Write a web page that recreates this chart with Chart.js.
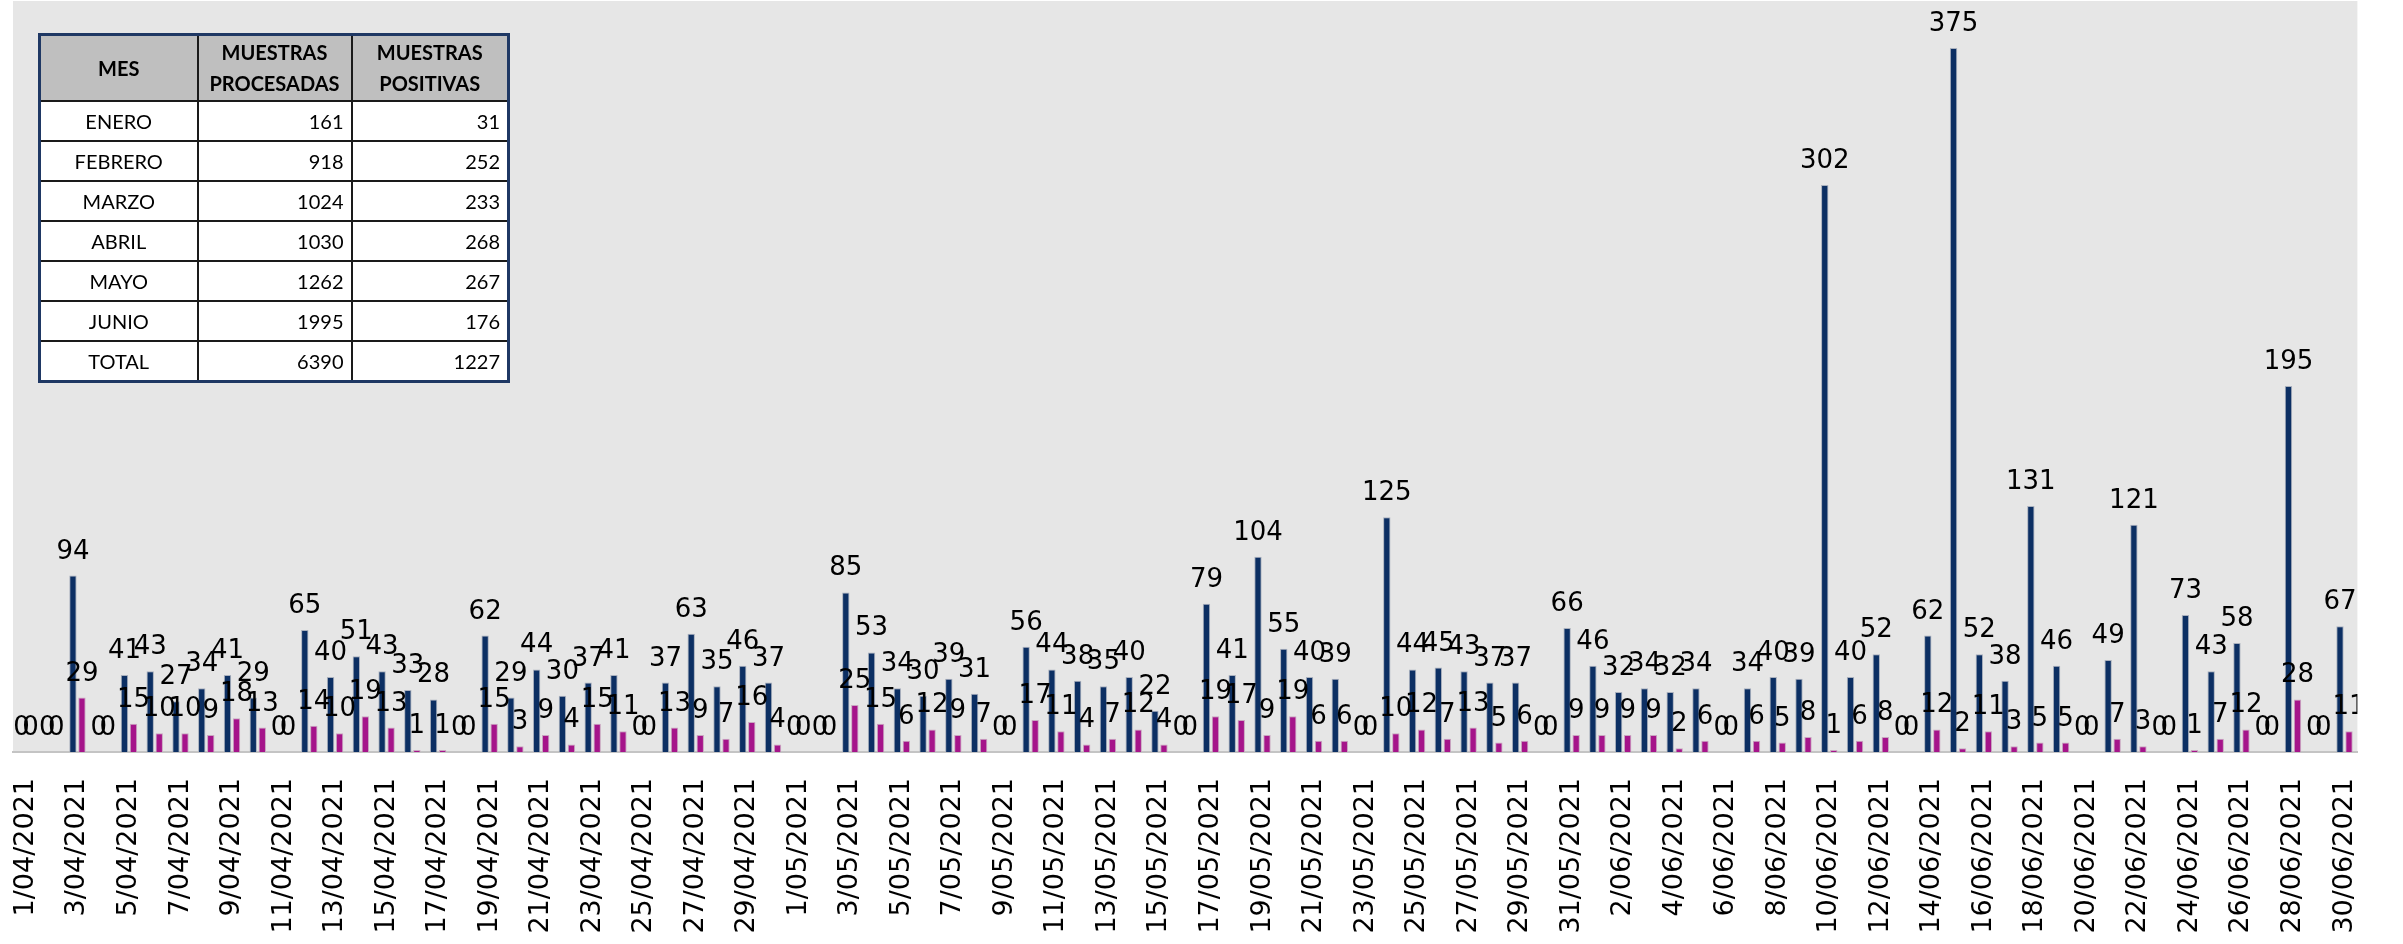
<!DOCTYPE html>
<html>
<head>
<meta charset="utf-8">
<script src="https://cdn.jsdelivr.net/npm/chart.js@4"></script>
<style>
    html, body { margin: 0; padding: 0; background: #fff; }
    #wrap { position: relative; width: 2403px; height: 944px; }
    #monthTable {
        position: absolute; left: 38px; top: 33px;
        border-collapse: collapse; border: 3px solid #1f3864; table-layout: fixed;
        font-family: Lato, "Liberation Sans", sans-serif; font-size: 20px; color: #000;
    }
    #monthTable th, #monthTable td { border: 2px solid #1a1a1a; padding: 0 7px; }
    #monthTable th { background: #bfbfbf; height: 64px; line-height: 31px; font-weight: bold; }
    #monthTable td { background: #fff; height: 38px; text-align: right; }
    #monthTable td:first-child { text-align: center; }
</style>
</head>
<body>
<div id="wrap">
    <canvas id="dailyChart" width="2403" height="944"></canvas>
    <table id="monthTable">
        <colgroup><col style="width:158px"><col style="width:154px"><col style="width:157px"></colgroup>
        <tbody id="monthRows"></tbody>
    </table>
</div>
<script>
// Muestras diarias abril - junio 2021
const months = [['04', 30], ['05', 31], ['06', 30]];
const dayLabels = [];
months.forEach(([m, n]) => {
    for (let d = 1; d <= n; d++) dayLabels.push(d + '/' + m + '/2021');
});

const processed = [
    0, 0, 94, 0, 41, 43, 27, 34, 41, 29, 0, 65, 40, 51, 43, 33, 28, 0, 62, 29,
    44, 30, 37, 41, 0, 37, 63, 35, 46, 37,
    0, 0, 85, 53, 34, 30, 39, 31, 0, 56, 44, 38, 35, 40, 22, 0, 79, 41, 104, 55,
    40, 39, 0, 125, 44, 45, 43, 37, 37, 0, 66,
    46, 32, 34, 32, 34, 0, 34, 40, 39, 302, 40, 52, 0, 62, 375, 52, 38, 131, 46, 0,
    49, 121, 0, 73, 43, 58, 0, 195, 0, 67
];
const positive = [
    0, 0, 29, 0, 15, 10, 10, 9, 18, 13, 0, 14, 10, 19, 13, 1, 1, 0, 15, 3,
    9, 4, 15, 11, 0, 13, 9, 7, 16, 4,
    0, 0, 25, 15, 6, 12, 9, 7, 0, 17, 11, 4, 7, 12, 4, 0, 19, 17, 9, 19,
    6, 6, 0, 10, 12, 7, 13, 5, 6, 0, 9,
    9, 9, 9, 2, 6, 0, 6, 5, 8, 1, 6, 8, 0, 12, 2, 11, 3, 5, 5, 0,
    7, 3, 0, 1, 7, 12, 0, 28, 0, 11
];

// Tabla resumen por mes
const tableMonths = ['ENERO', 'FEBRERO', 'MARZO', 'ABRIL', 'MAYO', 'JUNIO', 'TOTAL'];
const tableProcessed = [161, 918, 1024, 1030, 1262, 1995, 6390];
const tablePositive = [31, 252, 233, 268, 267, 176, 1227];

document.getElementById('monthRows').innerHTML =
    '<tr><th>MES</th><th>MUESTRAS<br>PROCESADAS</th><th>MUESTRAS<br>POSITIVAS</th></tr>' +
    tableMonths.map((m, i) => `<tr><td>${m}</td><td>${tableProcessed[i]}</td><td>${tablePositive[i]}</td></tr>`).join('');

const plotBackground = {
    id: 'plotBackground',
    beforeDraw(chart) {
        const { ctx, chartArea: a } = chart;
        ctx.save();
        ctx.fillStyle = '#e6e6e6';
        ctx.fillRect(a.left, a.top, a.right - a.left, a.bottom - a.top);
        ctx.restore();
    }
};

// etiquetas de valor sobre cada barra, recortadas al area del grafico
const valueLabels = {
    id: 'valueLabels',
    afterDatasetsDraw(chart) {
        const { ctx, chartArea: a } = chart;
        ctx.save();
        ctx.beginPath();
        ctx.rect(a.left, 0, a.right - a.left, a.bottom);
        ctx.clip();
        ctx.font = '26px "DejaVu Sans", sans-serif';
        ctx.fillStyle = '#000';
        ctx.textAlign = 'center';
        ctx.textBaseline = 'alphabetic';
        chart.data.datasets.forEach((ds, di) => {
            chart.getDatasetMeta(di).data.forEach((bar, i) => {
                ctx.fillText(ds.data[i], bar.x, bar.y - 17);
            });
        });
        ctx.restore();
    }
};

new Chart(document.getElementById('dailyChart').getContext('2d'), {
    type: 'bar',
    data: {
        labels: dayLabels,
        datasets: [{
            label: 'Muestras procesadas',
            data: processed,
            backgroundColor: '#0c2f63',
            borderColor: '#a9b0bd',
            borderWidth: 1,
            categoryPercentage: 0.7,
            barPercentage: 0.82
        }, {
            label: 'Muestras positivas',
            data: positive,
            backgroundColor: '#a5148a',
            borderColor: '#c9a6c0',
            borderWidth: 1,
            categoryPercentage: 0.7,
            barPercentage: 0.82
        }]
    },
    options: {
        responsive: false,
        animation: false,
        layout: { padding: { left: 10, right: 21, top: 1, bottom: 0 } },
        plugins: {
            legend: { display: false },
            tooltip: { enabled: false }
        },
        scales: {
            x: {
                grid: { display: false, drawTicks: false },
                border: { display: true, color: '#c4c4c4', width: 2 },
                afterFit(scale) { scale.height = 192; },
                ticks: {
                    autoSkip: false,
                    minRotation: 90,
                    maxRotation: 90,
                    padding: 26,
                    color: '#000',
                    font: { family: '"DejaVu Sans", sans-serif', size: 27 },
                    callback(value, index) {
                        return index % 2 === 0 ? dayLabels[index] : '';
                    }
                }
            },
            y: {
                display: false,
                min: 0,
                max: 400
            }
        }
    },
    plugins: [plotBackground, valueLabels]
});
</script>
</body>
</html>
